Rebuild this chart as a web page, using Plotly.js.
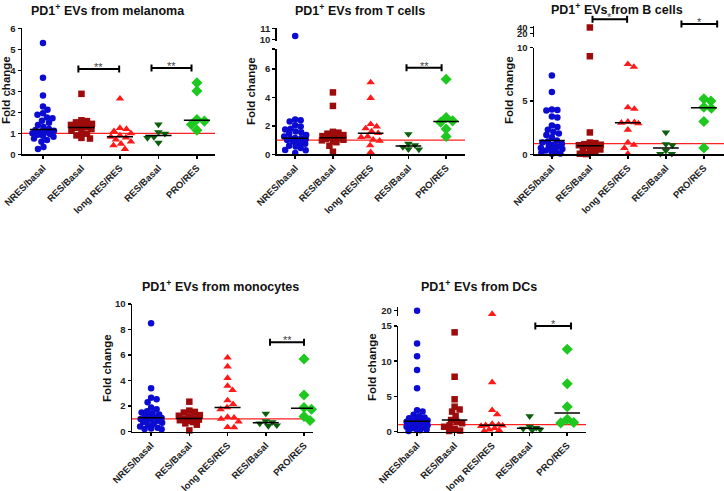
<!DOCTYPE html>
<html><head><meta charset="utf-8">
<script src="https://cdn.plot.ly/plotly-3.0.1.min.js"></script>
<style>html,body{margin:0;padding:0;background:#fff}#chart{width:724px;height:491px}</style>
</head><body><div id="chart"></div>
<script>
// ---------------- DATA ----------------
const categories = ['NRES/basal', 'RES/Basal', 'long RES/RES', 'RES/Basal', 'PRO/RES'];
const panelTitles = ['PD1<sup>+</sup> EVs from melanoma', 'PD1<sup>+</sup> EVs from T cells',
  'PD1<sup>+</sup> EVs from B cells', 'PD1<sup>+</sup> EVs from monocytes', 'PD1<sup>+</sup> EVs from DCs'];
const yAxisTitle = 'Fold change';
const baseline = 1;

const melanoma = [
  [5.3, 3.65, 2.8, 2.28, 2.12, 1.95, 1.88, 1.75, 1.72, 1.6, 1.5, 1.4, 1.3, 1.2, 1.16, 1.12, 1.08, 1.04, 1.0, 0.97, 0.93, 0.88, 0.83, 0.75, 0.68, 0.6, 0.35, 0.25],
  [2.88, 1.62, 1.58, 1.52, 1.45, 1.4, 1.35, 1.3, 1.26, 1.2, 1.12, 1.05, 0.98, 0.9, 0.78, 0.75],
  [2.65, 1.25, 1.2, 1.1, 1.0, 0.9, 0.83, 0.8, 0.7, 0.6, 0.5, 0.42, 0.25],
  [1.42, 1.05, 0.98, 0.82, 0.78, 0.55],
  [3.41, 3.02, 1.66, 1.58, 1.42, 1.15]
];
const tCells = [
  [10.3, 2.45, 2.4, 2.3, 2.05, 1.95, 1.8, 1.75, 1.6, 1.55, 1.45, 1.35, 1.25, 1.15, 1.12, 1.1, 1.05, 1.0, 0.95, 0.9, 0.8, 0.75, 0.6, 0.55, 0.45, 0.3, 0.28, 0.1],
  [4.35, 3.4, 1.58, 1.52, 1.45, 1.35, 1.28, 1.2, 1.17, 1.12, 1.08, 1.02, 0.98, 0.92, 0.85, 0.6, 0.18],
  [5.05, 3.95, 2.12, 1.95, 1.82, 1.6, 1.48, 1.25, 1.2, 1.02, 0.95, 0.62, 0.15],
  [1.42, 0.75, 0.65, 0.52, 0.36, 0.34],
  [5.28, 2.58, 2.35, 2.25, 1.78, 1.25]
];
const bCells = [
  [7.4, 5.85, 4.2, 4.15, 4.1, 3.55, 3.45, 2.7, 2.55, 2.3, 2.1, 1.95, 1.8, 1.6, 1.3, 1.2, 1.1, 1.0, 0.9, 0.8, 0.7, 0.6, 0.5, 0.45, 0.35, 0.25, 0.15, 0.08, 0.05],
  [40, 9.2, 2.05, 1.1, 1.05, 0.95, 0.9, 0.85, 0.8, 0.75, 0.7, 0.5, 0.45, 0.3, 0.15, 0.05, 0.02],
  [8.45, 8.2, 4.4, 4.25, 3.05, 3.0, 2.95, 2.9, 2.3, 1.1, 0.88, 0.58, 0.05],
  [2.05, 0.95, 0.85, 0.35, 0.05, 0.04],
  [5.2, 5.0, 4.42, 4.32, 3.08, 0.6]
];
const monocytes = [
  [8.5, 3.4, 2.65, 2.55, 2.3, 1.9, 1.75, 1.6, 1.5, 1.45, 1.35, 1.25, 1.2, 1.12, 1.08, 1.0, 0.95, 0.9, 0.85, 0.75, 0.7, 0.6, 0.5, 0.4, 0.3, 0.25, 0.22, 0.2],
  [2.35, 1.65, 1.55, 1.5, 1.3, 1.25, 1.15, 1.05, 1.0, 0.95, 0.9, 0.85, 0.75, 0.65, 0.55, 0.1],
  [5.8, 5.1, 4.2, 3.58, 3.25, 2.45, 2.15, 1.9, 1.75, 1.15, 1.1, 1.0, 0.78, 0.35, 0.33],
  [1.42, 0.82, 0.75, 0.65, 0.5, 0.45],
  [5.7, 2.88, 1.9, 1.76, 1.2, 0.88]
];
const dcs = [
  [20, 12.5, 10.7, 8.75, 6.15, 3.05, 2.85, 2.4, 2.2, 2.0, 1.9, 1.8, 1.7, 1.6, 1.5, 1.4, 1.3, 1.2, 1.1, 1.0, 0.9, 0.8, 0.7, 0.6, 0.5, 0.4, 0.3, 0.2, 0.1],
  [14.1, 7.8, 4.6, 3.55, 3.15, 2.85, 2.2, 1.66, 1.4, 1.2, 0.9, 0.7, 0.4, 0.15, 0.1],
  [19, 7.0, 3.05, 2.45, 1.1, 1.0, 0.9, 0.85, 0.8, 0.5, 0.3, 0.2, 0.1],
  [2.2, 0.72, 0.55, 0.42, 0.3, 0.22],
  [11.7, 6.8, 3.55, 1.75, 1.3, 1.25]
];
const panelData = [melanoma, tCells, bCells, monocytes, dcs];
const sigLabels = [['**', '**'], ['**'], ['*', '*'], ['**'], ['*']];

// ---------------- LAYOUT / STYLE ----------------
const W = 724, H = 491;
const FONT = 'Liberation Sans, Arial, Helvetica, sans-serif';
const symbols = ['circle', 'square', 'triangle-up', 'triangle-down', 'diamond'];
const colors = ['#0b0bd1', '#9e0b0b', '#ff1a1a', '#0b5e0b', '#1ec81e'];
const sizes = [6.5, 6.5, 7.5, 7.5, 8.5];

const geom = [
  {xpx: [22, 215], xr: [-0.545, 4.47], ypx: [28.3, 154.3], yr: [0, 6], ticks: [0, 1, 2, 3, 4, 5, 6],
   title: [108, 10], ytitle: [6, 90], brackets: [[0.92, 1.98, 69], [2.82, 3.86, 68]]},
  {xpx: [276.7, 465], xr: [-0.49, 4.5], ypx: [49, 154.3], yr: [0, 7.4], ticks: [0, 2, 4, 6, 7.4], labels: ['0', '2', '4', '6', ''],
   top: {ypx: [28.3, 41], yr: [9.85, 11], ticks: [10, 11]}, brk: 7.4,
   title: [360, 10], ytitle: [251, 91], brackets: [[2.95, 3.88, 67.7]]},
  {xpx: [534, 724], xr: [-0.47, 4.53], ypx: [47.7, 154.3], yr: [0, 10], ticks: [0, 5, 10],
   top: {ypx: [26, 37], yr: [8, 45], ticks: [20, 40]}, brk: 10,
   title: [617, 9], ytitle: [509, 90], brackets: [[1.07, 1.98, 19.3], [3.41, 4.35, 24]]},
  {xpx: [132, 313], xr: [-0.5, 4.235], ypx: [304, 431.7], yr: [0, 10], ticks: [0, 2, 4, 6, 8, 10],
   title: [220, 286], ytitle: [107, 368], brackets: [[3.11, 4.0, 342.3]]},
  {xpx: [398.3, 586], xr: [-0.5, 4.5], ypx: [326, 431.7], yr: [0, 15], ticks: [0, 5, 10, 15],
   top: {ypx: [307, 316], yr: [18.4, 21.1], ticks: [20]}, brk: 15,
   title: [479, 286], ytitle: [372, 367], brackets: [[3.15, 4.1, 326]]}
];

const fx = p => p / W;
const fy = p => 1 - p / H;

function median(a) {
  const s = a.slice().sort((p, q) => p - q);
  const n = s.length;
  return n % 2 ? s[(n - 1) / 2] : (s[n / 2 - 1] + s[n / 2]) / 2;
}

// deterministic, width-limited beeswarm in pixel space
function swarm(vals, pxY, D, maxW) {
  const idx = vals.map((v, i) => i).sort((a, b) => vals[b] - vals[a]);
  const placed = [];
  const off = new Array(vals.length).fill(0);
  for (const i of idx) {
    const py = vals[i] * pxY;
    let best = 0, bestScore = -1;
    for (let k = 0; ; k++) {
      const dx = (k % 2 === 1 ? 1 : -1) * Math.ceil(k / 2) * 0.5;
      if (Math.abs(dx) > maxW) break;
      let minD = Infinity;
      for (const p of placed) {
        const ddx = dx - p[0], ddy = py - p[1];
        minD = Math.min(minD, Math.sqrt(ddx * ddx + ddy * ddy));
      }
      if (minD >= D) { best = dx; break; }
      if (minD > bestScore + 0.6) { bestScore = minD; best = dx; }
    }
    off[i] = best; placed.push([best, py]);
  }
  return off;
}

const traces = [];
const shapes = [];
const annotations = [];
const layout = {
  width: W, height: H, margin: {l: 0, r: 0, t: 0, b: 0},
  paper_bgcolor: '#fff', plot_bgcolor: 'rgba(0,0,0,0)', showlegend: false,
  font: {family: FONT, color: '#222'}
};

const axisStyle = {
  showline: true, linecolor: '#000', linewidth: 1.5, ticks: 'outside', ticklen: 3, tickwidth: 1.5,
  tickcolor: '#000', showgrid: false, zeroline: false, fixedrange: true,
  tickfont: {family: FONT, size: 9.5, color: '#222', weight: 'bold'}
};

let topAxisNum = 6;
geom.forEach((g, p) => {
  const n = p + 1;
  const xa = 'x' + n, ya = 'y' + n;
  layout['xaxis' + n] = Object.assign({}, axisStyle, {
    domain: [fx(g.xpx[0]), fx(g.xpx[1])], range: g.xr, anchor: ya,
    tickmode: 'array', tickvals: categories.map((c, i) => i), ticktext: categories, tickangle: -45,
    tickfont: {family: FONT, size: 9.5, color: '#222', weight: 'bold'}
  });
  layout['yaxis' + n] = Object.assign({}, axisStyle, {
    domain: [fy(g.ypx[1]), fy(g.ypx[0])], range: g.yr, anchor: xa,
    tickmode: 'array', tickvals: g.ticks, ticktext: g.labels || g.ticks.map(String)
  });
  let yTop = null, pxYTop = 0;
  if (g.top) {
    const tn = topAxisNum++;
    yTop = 'y' + tn;
    layout['yaxis' + tn] = Object.assign({}, axisStyle, {
      domain: [fy(g.top.ypx[1]), fy(g.top.ypx[0])], range: g.top.yr, anchor: xa,
      tickmode: 'array', tickvals: g.top.ticks, ticktext: g.top.ticks.map(String)
    });
    pxYTop = (g.top.ypx[1] - g.top.ypx[0]) / (g.top.yr[1] - g.top.yr[0]);
  }
  const pxY = (g.ypx[1] - g.ypx[0]) / (g.yr[1] - g.yr[0]);
  const pxCat = (g.xpx[1] - g.xpx[0]) / (g.xr[1] - g.xr[0]);

  // reference line at y = 1
  shapes.push({type: 'line', xref: xa + ' domain', yref: ya, x0: 0, x1: 1, y0: baseline, y1: baseline,
    line: {color: '#ff2020', width: 1.3}, layer: 'below'});

  panelData[p].forEach((vals, gi) => {
    const main = vals.filter(v => g.brk === undefined || v <= g.brk);
    const high = vals.filter(v => g.brk !== undefined && v > g.brk);
    const D = sizes[gi] * 0.85;
    const offM = swarm(main, pxY, D, 11);
    traces.push({
      type: 'scatter', mode: 'markers', xaxis: xa, yaxis: ya, cliponaxis: false, hoverinfo: 'skip',
      x: main.map((v, i) => gi + offM[i] / pxCat), y: main,
      marker: {symbol: symbols[gi], size: sizes[gi], color: colors[gi], line: {width: 0}}
    });
    if (high.length && yTop) {
      const offH = swarm(high, pxYTop, D, 11);
      traces.push({
        type: 'scatter', mode: 'markers', xaxis: xa, yaxis: yTop, cliponaxis: false, hoverinfo: 'skip',
        x: high.map((v, i) => gi + offH[i] / pxCat), y: high,
        marker: {symbol: symbols[gi], size: sizes[gi], color: colors[gi], line: {width: 0}}
      });
    }
    const m = median(vals);
    shapes.push({type: 'line', xref: xa, yref: ya, x0: gi - 0.34, x1: gi + 0.34, y0: m, y1: m,
      line: {color: '#000', width: 1.5}, layer: 'above'});
  });

  // significance brackets
  g.brackets.forEach((b, bi) => {
    const [x0, x1, ypix] = b;
    shapes.push({type: 'line', xref: xa, yref: 'paper', x0: x0, x1: x1, y0: fy(ypix), y1: fy(ypix), line: {color: '#000', width: 2}});
    [x0, x1].forEach(xx => shapes.push({type: 'line', xref: xa, yref: 'paper', x0: xx, x1: xx,
      y0: fy(ypix - 3.5), y1: fy(ypix + 3.5), line: {color: '#000', width: 2}}));
    annotations.push({xref: xa, yref: 'paper', x: (x0 + x1) / 2, y: fy(ypix - 2), text: sigLabels[p][bi],
      showarrow: false, xanchor: 'center', yanchor: 'middle', font: {family: FONT, size: 11, color: '#444'}});
  });

  // titles
  annotations.push({xref: 'paper', yref: 'paper', x: fx(g.title[0]), y: fy(g.title[1]), text: panelTitles[p],
    showarrow: false, xanchor: 'center', yanchor: 'middle', font: {family: FONT, size: 12.5, color: '#111', weight: 'bold'}});
  annotations.push({xref: 'paper', yref: 'paper', x: fx(g.ytitle[0]), y: fy(g.ytitle[1]), text: yAxisTitle,
    textangle: -90, showarrow: false, xanchor: 'center', yanchor: 'middle', font: {family: FONT, size: 11.5, color: '#111', weight: 'bold'}});
});

layout.shapes = shapes;
layout.annotations = annotations;
Plotly.newPlot('chart', traces, layout, {staticPlot: true, displayModeBar: false});
</script>
</body></html>
